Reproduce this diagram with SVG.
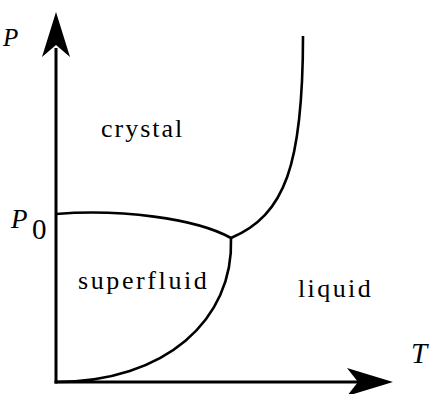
<svg xmlns="http://www.w3.org/2000/svg" width="430" height="394" viewBox="0 0 430 394">
<rect width="430" height="394" fill="#fff"/>
<g id="axes" fill="none" stroke="#000" stroke-width="3">
<line x1="56" y1="383.5" x2="56" y2="48"/>
<line x1="54.5" y1="382" x2="362" y2="382"/>
<polygon fill="#000" stroke="none" points="56,12 70,57 56,45 42,57"/>
<polygon fill="#000" stroke="none" points="393,382 347,368 358,382 347,396"/>
</g>
<g id="connectors" fill="none" stroke="#000" stroke-width="2.6">
<path d="M56,214 C120,209 195,218 231,238"/>
<path d="M231,238 C234,320 165,382 56,382"/>
<path d="M231,238 C285,215 303,165 303,36"/>
</g>
<g id="labels" font-family="Times New Roman, Liberation Serif, serif" fill="#000">
<text x="3" y="46" font-style="italic" font-size="25">P</text>
<text x="411" y="363" font-style="italic" font-size="29">T</text>
<text x="11" y="228" font-style="italic" font-size="27">P</text>
<text x="32" y="239" font-size="29">0</text>
<text id="crystal" x="101" y="137" font-size="26" letter-spacing="2">crystal</text>
<text id="superfluid" x="78" y="289" font-size="26" letter-spacing="2.6">superfluid</text>
<text id="liquid" x="298" y="297" font-size="26" letter-spacing="2.4">liquid</text>
</g>
</svg>
